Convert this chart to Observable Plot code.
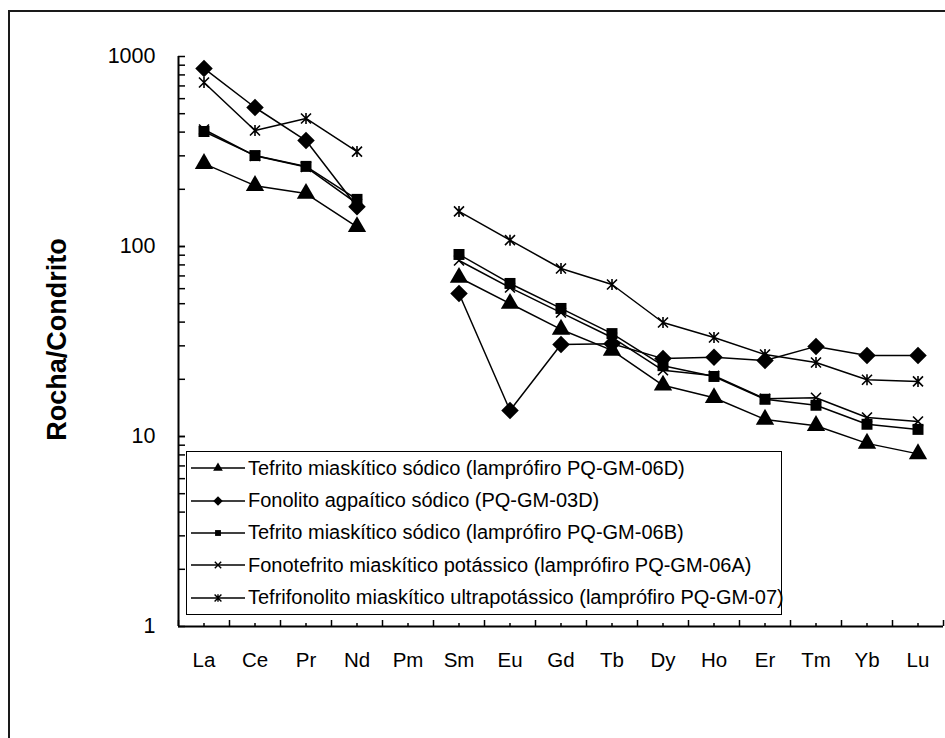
<!DOCTYPE html>
<html>
<head>
<meta charset="utf-8">
<script src="https://cdn.jsdelivr.net/npm/d3@7"></script>
<script src="https://cdn.jsdelivr.net/npm/@observablehq/plot@0.6"></script>
<style>
  html, body { margin: 0; padding: 0; background: #fff; overflow: hidden; width: 945px; height: 738px; }
  #wrap { position: relative; width: 945px; height: 738px; font-family: "Liberation Sans", Arial, sans-serif; }
  #chart svg { display: block; }
  #frame { position: absolute; left: 8px; top: 10px; width: 1000px; height: 800px; border: 2px solid #1a1a1a; pointer-events: none; }
  #legend { position: absolute; left: 186px; top: 451px; width: 594px; height: 162px; border: 1.5px solid #000; background: #fff; }
  .row { height: 32.4px; display: flex; align-items: center; font-size: 20px; white-space: nowrap; color: #000; }
  .row svg { flex: none; margin-left: 2px; margin-right: 3px; }
</style>
</head>
<body>
<div id="wrap">
  <div id="chart"></div>
  <div id="legend"></div>
  <div id="frame"></div>
</div>
<script>
// Rare-earth elements in atomic order (Pm has no analyses)
const elements = ["La", "Ce", "Pr", "Nd", "Pm", "Sm", "Eu", "Gd", "Tb", "Dy", "Ho", "Er", "Tm", "Yb", "Lu"];

// Chondrite-normalised REE contents
const tefrito06D = [273, 209, 190, 127, null, 68.7, 50.1, 36.6, 28.4, 18.6, 16.0, 12.3, 11.4, 9.2, 8.1];
const fonolito03D = [865, 539, 361, 162, null, 56.6, 13.7, 30.5, 30.8, 25.7, 26.1, 25.1, 29.8, 26.7, 26.7];
const tefrito06B = [403, 301, 264, 177, null, 90.8, 63.9, 47.2, 34.8, 23.6, 20.7, 15.7, 14.6, 11.6, 10.9];
const fonotefrito06A = [413, 300, 262, 168, null, 84.4, 60.8, 44.9, 33.2, 22.3, 20.9, 15.8, 16.0, 12.6, 12.0];
const tefrifonolito07 = [730, 408, 472, 316, null, 153, 108, 76.6, 63.1, 39.8, 33.2, 27.0, 24.5, 19.9, 19.5];

const seriesNames = [
  "Tefrito miaskítico sódico (lamprófiro PQ-GM-06D)",
  "Fonolito agpaítico sódico (PQ-GM-03D)",
  "Tefrito miaskítico sódico (lamprófiro PQ-GM-06B)",
  "Fonotefrito miaskítico potássico (lamprófiro PQ-GM-06A)",
  "Tefrifonolito miaskítico ultrapotássico (lamprófiro PQ-GM-07)"
];

const yLabelTicks = [1, 10, 100, 1000];

// Excel-style star marker: an x crossed by a vertical bar
const symbolStar = {
  draw(context, size) {
    const r = Math.sqrt(size / Math.PI);
    context.moveTo(-r, -r); context.lineTo(r, r);
    context.moveTo(-r, r); context.lineTo(r, -r);
    context.moveTo(0, -r * 1.1); context.lineTo(0, r * 1.1);
  }
};

const series = [
  {name: seriesNames[0], values: tefrito06D, symbol: d3.symbolTriangle, filled: true, r: 6.8, lr: 3.6},
  {name: seriesNames[1], values: fonolito03D, symbol: d3.symbolDiamond2, filled: true, r: 7.9, lr: 4.3},
  {name: seriesNames[2], values: tefrito06B, symbol: d3.symbolSquare, filled: true, r: 6.2, lr: 3.3},
  {name: seriesNames[3], values: fonotefrito06A, symbol: d3.symbolTimes, filled: false, r: 4.6, lr: 3.0},
  {name: seriesNames[4], values: tefrifonolito07, symbol: symbolStar, filled: false, r: 5.0, lr: 3.4}
];

// long table: one row per series/element
const rows = series.flatMap((s, k) =>
  elements.map((el, i) => ({series: s.name, k, el, i, value: s.values[i]}))
);

// log-decade minor ticks 2..9 for each decade
const minorTicks = [];
for (const base of [1, 10, 100]) for (let m = 1; m <= 10; m++) minorTicks.push(base * m);

const centers = elements.map((_, i) => i + 0.5);
const bounds = d3.range(elements.length + 1);

const seriesMarks = series.flatMap((s, k) => {
  const data = rows.filter(d => d.k === k);
  return [
    Plot.line(data, {x: d => d.i + 0.5, y: "value", stroke: "#000", strokeWidth: 1.5}),
    Plot.dot(data, s.filled
      ? {x: d => d.i + 0.5, y: "value", symbol: s.symbol, r: s.r, fill: "#000", stroke: "none"}
      : {x: d => d.i + 0.5, y: "value", symbol: s.symbol, r: s.r, fill: "none", stroke: "#000", strokeWidth: 1.6})
  ];
});

const chart = Plot.plot({
  width: 945,
  height: 738,
  marginLeft: 178,
  marginRight: 2,
  marginTop: 56,
  marginBottom: 112,
  style: {fontFamily: "'Liberation Sans', Arial, sans-serif", background: "transparent", color: "#000"},
  x: {type: "linear", domain: [0, elements.length]},
  y: {type: "log", domain: [1, 1000]},
  marks: [
    // y axis: inward minor ticks, then labelled decades
    Plot.axisY({ticks: minorTicks, tickSize: -7, tickFormat: () => "", label: null, strokeWidth: 1.5}),
    Plot.axisY({ticks: yLabelTicks, tickSize: 0, tickPadding: 23, tickFormat: d3.format("d"), fontSize: 21.5, label: null}),
    // x axis: tall ticks between categories, short ticks at the categories
    Plot.axisX({ticks: bounds, tickSize: -6, tickFormat: () => "", label: null, strokeWidth: 1.5}),
    Plot.axisX({ticks: centers, tickSize: -3, tickFormat: () => "", label: null, strokeWidth: 1.5}),
    Plot.axisX({ticks: centers, tickSize: 0, tickPadding: 26, tickFormat: v => elements[Math.floor(v)], fontSize: 20.5, label: null}),
    Plot.ruleX([0], {stroke: "#000", strokeWidth: 2}),
    Plot.ruleY([1], {stroke: "#000", strokeWidth: 2}),
    Plot.text(["Rocha/Condrito"], {text: d => d, frameAnchor: "left", textAnchor: "middle", dx: -121, dy: -2, rotate: -90, fontSize: 27, fontWeight: "bold", fill: "#000"}),
    ...seriesMarks
  ]
});
document.getElementById("chart").appendChild(chart);

// legend with line-and-marker swatches
const legend = d3.select("#legend");
for (const s of series) {
  const row = legend.append("div").attr("class", "row");
  const svg = row.append("svg").attr("width", 56).attr("height", 20);
  svg.append("line").attr("x1", 2).attr("x2", 56).attr("y1", 10).attr("y2", 10)
    .attr("stroke", "#000").attr("stroke-width", 1.5);
  svg.append("path")
    .attr("transform", "translate(29,10)")
    .attr("d", d3.symbol(s.symbol, s.lr * s.lr * Math.PI)())
    .attr("fill", s.filled ? "#000" : "none")
    .attr("stroke", s.filled ? "none" : "#000")
    .attr("stroke-width", 1.4);
  row.append("span").text(s.name);
}
</script>
</body>
</html>
